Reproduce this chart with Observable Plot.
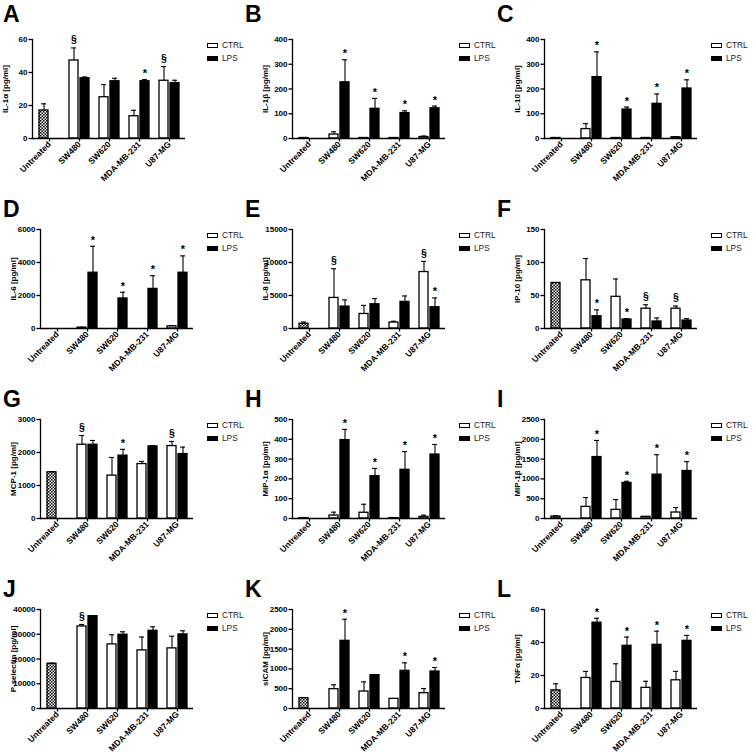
<!DOCTYPE html>
<html><head><meta charset="utf-8">
<script src="https://cdn.jsdelivr.net/npm/d3@7"></script>
<script src="https://cdn.jsdelivr.net/npm/@observablehq/plot@0.6"></script>
<style>
html,body{margin:0;padding:0;background:#fff;}
#fig{position:relative;width:756px;height:755px;overflow:hidden;font-family:"Liberation Sans",Arial,sans-serif;background:#fff;}
.letter{position:absolute;font-size:23px;font-weight:bold;line-height:1;color:#000;}
.panel{position:absolute;}
.legend{position:absolute;font-size:8.3px;color:#222;}
.legend .row{position:absolute;left:0;white-space:nowrap;height:10px;}
.legend .sw{position:absolute;left:0;top:2.5px;width:9px;height:3px;border:1.3px solid #000;}
.legend .lab{position:absolute;left:15px;top:0;line-height:10px;}
</style></head>
<body>
<svg width="0" height="0" style="position:absolute"><defs>
<pattern id="checker" patternUnits="userSpaceOnUse" width="3" height="3">
<rect width="3" height="3" fill="#fff"/><rect width="1.5" height="1.5" fill="#000"/><rect x="1.5" y="1.5" width="1.5" height="1.5" fill="#000"/>
</pattern></defs></svg>
<div id="fig"></div>
<script>
const groups = ["Untreated", "SW480", "SW620", "MDA-MB-231", "U87-MG"];
const cellLines = ["SW480", "SW620", "MDA-MB-231", "U87-MG"];
const legendLabels = ["CTRL", "LPS"];
const panelLetters = ["A","B","C","D","E","F","G","H","I","J","K","L"];
const yLabels = ["IL-1α [pg/ml]","IL-1β [pg/ml]","IL-10 [pg/ml]","IL-6 [pg/ml]","IL-8 [pg/ml]","IP-10 [pg/ml]",
  "MCP-1 [pg/ml]","MIP-1α [pg/ml]","MIP-1β [pg/ml]","P-selectin [pg/ml]","sICAM [pg/ml]","TNFα [pg/ml]"];
const yTicks = [
  [0,20,40,60],[0,100,200,300,400],[0,100,200,300,400],
  [0,2000,4000,6000],[0,5000,10000,15000],[0,50,100,150],
  [0,1000,2000,3000],[0,100,200,300,400,500],[0,500,1000,1500,2000,2500],
  [0,10000,20000,30000,40000],[0,500,1000,1500,2000,2500],[0,20,40,60]];
const untreatedMean = [17, 2, 2, 0, 720, 69, 1400, 2, 50, 18100, 261, 11];
const untreatedErr  = [4, 0, 0, 0, 250, 0, 20, 0, 17, 200, 17, 4];
const ctrlMean = [
  [47.3, 25, 13.5, 35], [16, 2, 2, 6], [38, 2, 2, 5],
  [50, 0, 0, 130], [4630, 2200, 900, 8560], [73, 48, 30, 30],
  [2235, 1300, 1650, 2195], [15, 29, 2, 8], [294, 218, 42, 151],
  [33150, 25900, 23490, 24300], [488, 429, 244, 387], [18.5, 16.1, 12.5, 17.1]];
const ctrlErr = [
  [7.6, 7.7, 3.6, 8.6], [11, 0, 0, 4], [22, 0, 0, 2],
  [20, 0, 0, 50], [4430, 1300, 200, 1610], [33, 27, 6, 4],
  [280, 550, 80, 140], [17, 43, 0, 9], [235, 260, 8, 126],
  [810, 3900, 5370, 4900], [110, 244, 0, 118], [4, 11, 4, 5.4]];
const lpsMean = [
  [36.5, 34.7, 34.7, 33.5], [227, 120, 103, 122], [248, 117, 140, 202],
  [3380, 1820, 2400, 3380], [3320, 3670, 4030, 3220], [18.6, 13.6, 10.6, 12],
  [2235, 1905, 2185, 1953], [396, 214, 246, 323], [1552, 898, 1107, 1200],
  [37300, 29800, 31400, 29930], [1709, 842, 951, 934], [52, 38, 38.6, 41]];
const lpsErr = [
  [0.8, 1.8, 1.0, 1.8], [91, 42, 9, 9], [102, 10, 40, 35],
  [1600, 380, 800, 1020], [1010, 860, 900, 1410], [9.6, 1.4, 5.4, 3],
  [130, 190, 20, 210], [54, 39, 92, 51], [419, 42, 504, 235],
  [150, 1200, 1620, 1470], [547, 17, 202, 101], [2.7, 5.3, 8.3, 3.3]];
const ctrlSig = [
  ["§","","","§"], ["","","",""], ["","","",""],
  ["","","",""], ["§","","","§"], ["","","§","§"],
  ["§","","","§"], ["","","",""], ["","","",""],
  ["§","","",""], ["","","",""], ["","","",""]];
const lpsSig = [
  ["","","*",""], ["*","*","*","*"], ["*","*","*","*"],
  ["*","*","*","*"], ["","","","*"], ["*","*","",""],
  ["","*","",""], ["*","*","*","*"], ["*","*","*","*"],
  ["","","",""], ["*","","*","*"], ["*","*","*","*"]];

const fig = document.getElementById("fig");
const FONT = "'Liberation Sans', Arial, sans-serif";

function makePanel(i) {
  const rows = [{group: groups[0], cond: legendLabels[0], value: untreatedMean[i], err: untreatedErr[i], sig: ""}];
  cellLines.forEach((g, j) => {
    rows.push({group: g, cond: legendLabels[0], value: ctrlMean[i][j], err: ctrlErr[i][j], sig: ctrlSig[i][j]});
    rows.push({group: g, cond: legendLabels[1], value: lpsMean[i][j], err: lpsErr[i][j], sig: lpsSig[i][j]});
  });
  const top = d => d.value + d.err;
  const ctrlAll = rows.filter(d => d.cond === legendLabels[0]);
  const lpsAll = rows.filter(d => d.cond === legendLabels[1]);
  const untr = ctrlAll.filter(d => d.group === groups[0]);
  const ctrl = ctrlAll.filter(d => d.group !== groups[0]);
  const ticks = yTicks[i];
  const errMarks = (set, dx, capL, capR) => [
    Plot.ruleX(set.filter(d => d.err > 0), {x: "group", y1: "value", y2: top, dx, stroke: "#000", strokeWidth: 1.1}),
    Plot.tickY(set.filter(d => d.err > 0), {x: "group", y: top, insetLeft: capL, insetRight: capR, stroke: "#000", strokeWidth: 1.1}),
    Plot.text(set.filter(d => d.sig === "*"), {x: "group", y: top, text: "sig", dx, dy: -6, lineAnchor: "middle", fontSize: 11, fill: "#000"}),
    Plot.text(set.filter(d => d.sig === "§"), {x: "group", y: top, text: "sig", dx, dy: -8, lineAnchor: "middle", fontSize: 10.5, fill: "#000"})
  ];
  return Plot.plot({
    width: 200, height: 190,
    marginLeft: 40, marginRight: 7, marginTop: 39, marginBottom: 52,
    style: {fontFamily: FONT, fontSize: "8px", fontWeight: "bold", background: "transparent", overflow: "visible", color: "#000"},
    x: {domain: groups, paddingInner: 0, paddingOuter: 0.05},
    y: {domain: [0, ticks[ticks.length - 1]]},
    marks: [
      Plot.barY(untr, {x: "group", y: "value", fill: "url(#checker)", stroke: "#000", strokeWidth: 1.3, insetLeft: 5, insetRight: 16}),
      Plot.barY(ctrl, {x: "group", y: "value", fill: "#fff", stroke: "#000", strokeWidth: 1.3, insetLeft: 5, insetRight: 16}),
      Plot.barY(lpsAll, {x: "group", y: "value", fill: "#000", stroke: "#000", strokeWidth: 1.3, insetLeft: 16, insetRight: 5}),
      ...errMarks(ctrlAll, -5.5, 7, 18),
      ...errMarks(lpsAll, 5.5, 18, 7),
      Plot.frame({anchor: "left", stroke: "#000", strokeWidth: 1.3}),
      Plot.ruleY([0], {stroke: "#000", strokeWidth: 1.3}),
      Plot.axisY({ticks, tickFormat: d => String(d), tickSize: 3.5, tickPadding: 1.5, strokeWidth: 1.3,
        label: yLabels[i], labelAnchor: "center", labelOffset: 30, labelArrow: "none"}),
      Plot.axisX({tickRotate: -45, tickSize: 3.5, tickPadding: 1, strokeWidth: 1.3, fontSize: 8.5, label: null})
    ]
  });
}

panelLetters.forEach((letter, i) => {
  const col = i % 3, row = Math.floor(i / 3);
  const colX = col * 252, rowY = row * 190;
  const lt = document.createElement("div");
  lt.className = "letter";
  lt.textContent = letter;
  lt.style.left = (col === 0 ? 3 : colX - 7) + "px";
  lt.style.top = (rowY + (row === 0 ? 3 : 8)) + "px";
  fig.appendChild(lt);

  const svg = makePanel(i);
  const wrap = document.createElement("div");
  wrap.className = "panel";
  wrap.style.left = (colX + (i === 0 ? -8 : 0)) + "px";
  wrap.style.top = rowY + "px";
  wrap.appendChild(svg);
  fig.appendChild(wrap);

  const lg = document.createElement("div");
  lg.className = "legend";
  lg.style.left = (colX + 207) + "px";
  lg.style.top = (rowY + 40) + "px";
  legendLabels.forEach((lab, k) => {
    const r = document.createElement("div");
    r.className = "row";
    r.style.top = (k * 13) + "px";
    const sw = document.createElement("div");
    sw.className = "sw";
    sw.style.background = k === 0 ? "#fff" : "#000";
    const tx = document.createElement("div");
    tx.className = "lab";
    tx.textContent = lab;
    r.appendChild(sw); r.appendChild(tx);
    lg.appendChild(r);
  });
  fig.appendChild(lg);
});
</script>
</body></html>
